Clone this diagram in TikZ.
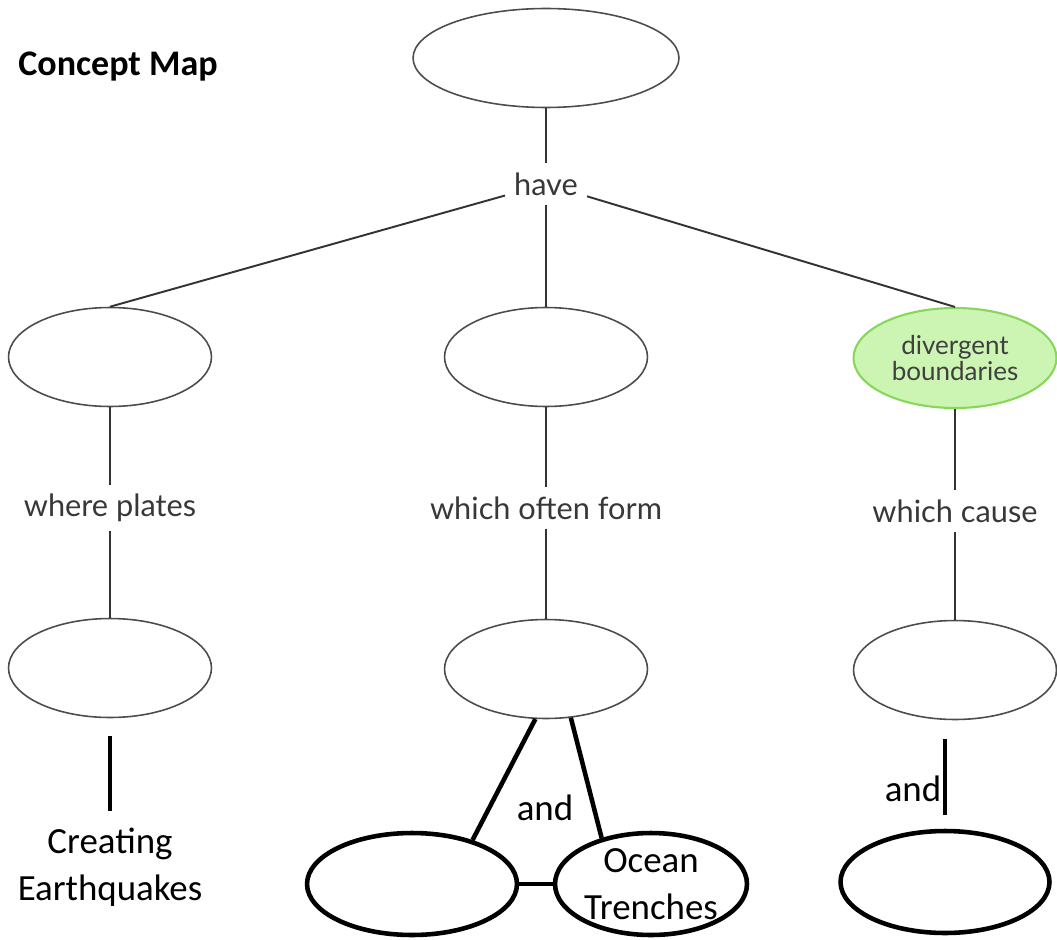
\documentclass[tikz,border=0pt]{standalone}
\usepackage{fontspec}
\setmainfont{Carlito}
\newfontfamily\lato{Lato}
\usepackage{tikz}
\usetikzlibrary{shapes.geometric,positioning,calc}

\definecolor{leafgreen}{HTML}{CCF5B4}
\definecolor{leafedge}{HTML}{86D75A}

\begin{document}
\begin{tikzpicture}[x=0.02cm,y=-0.02cm,
  bubble/.style={draw=black!70,line width=0.9pt,ellipse,inner sep=0pt,minimum width=4.06cm,minimum height=1.98cm},
  bigbubble/.style={draw=black,line width=2.6pt,ellipse,inner sep=0pt,minimum height=2.04cm,align=center,font=\fontsize{21}{27}\selectfont},
  linkword/.style={font=\lato\fontsize{17.5}{20}\selectfont,text=black!78,inner sep=5pt},
  link/.style={draw=black!80,line width=1.1pt},
  heavy/.style={line width=2.6pt}]
  \useasboundingbox (0,0) rectangle (1057,939);
  \node[font=\bfseries\fontsize{20.5}{24}\selectfont] (title) at (118,67) {Concept Map};
  \node[bubble,minimum width=5.32cm] (plates) at (546,58) {};
  \node[linkword] (have) at (546,184) {have};
  \node[bubble] (r2l) at (110,357) {};
  \node[bubble] (r2m) at (546,357) {};
  \node[bubble,fill=leafgreen,draw=leafedge,line width=1.2pt,minimum height=2cm,align=center,
        font=\lato\fontsize{14.8}{14.8}\selectfont,text=black!75] (div) at (955,358) {divergent\\boundaries};
  \node[linkword] (where) at (110,508) {where plates};
  \node[linkword] (form) at (546,508) {which often form};
  \node[linkword] (cause) at (955,511) {which cause};
  \node[bubble] (r3l) at (110,668) {};
  \node[bubble] (r3m) at (546,669) {};
  \node[bubble] (r3r) at (955,670) {};
  \node[align=center,font=\fontsize{21}{27}\selectfont] (quake) at (110,867) {Creating\\Earthquakes};
  \node[bigbubble,minimum width=4.2cm] (b3l) at (412,884) {};
  \node[bigbubble,minimum width=3.84cm] (b3r) at (651,884) {Ocean\\Trenches};
  \node[bigbubble,minimum width=4.18cm] (b3rr) at (945,882) {};
  \node[font=\fontsize{21}{25}\selectfont] (and1) at (545,808) {and};
  \node[font=\fontsize{21}{25}\selectfont] (and2) at (913,789) {and};
  % links from the top
  \draw[link] (plates) -- (have);
  \draw[link] (have) -- (r2m);
  \draw[link] (have) -- (r2l.north);
  \draw[link] (have) -- (div.north);
  % columns
  \draw[link] (r2l) -- (where);
  \draw[link] (where) -- (r3l);
  \draw[link] (r2m) -- (form);
  \draw[link] (form) -- (r3m);
  \draw[link] (div) -- (cause);
  \draw[link] (cause) -- (r3r);
  % bottom row
  \draw[heavy,shorten <=0.36cm,shorten >=0.2cm] (r3l) -- (quake);
  \draw[heavy] (r3m.258) -- (b3l.36);
  \draw[heavy] (r3m.297) -- (b3r.137);
  \draw[heavy] (b3l) -- (b3r);
  \draw[heavy,shorten <=0.38cm,shorten >=0.28cm] (r3r.south -| b3rr) -- (b3rr);
\end{tikzpicture}
\end{document}
